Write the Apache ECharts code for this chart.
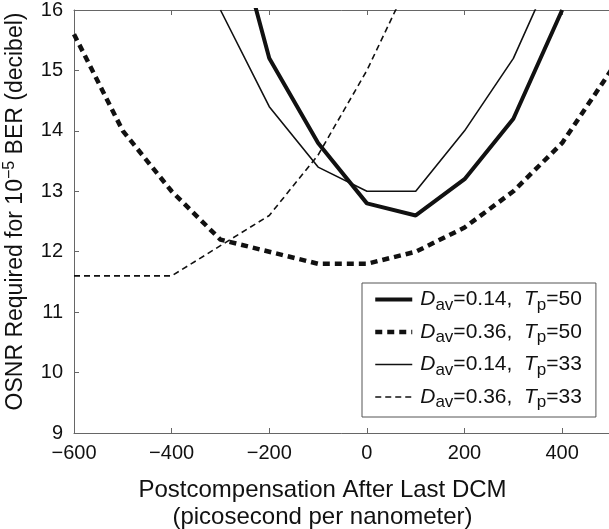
<!DOCTYPE html>
<html>
  <head>
    <meta charset="utf-8" />
    <title>OSNR vs postcompensation</title>
    <script src="https://cdn.jsdelivr.net/npm/echarts@6/dist/echarts.min.js"></script>
    <style type="text/css">
      html, body { margin: 0; padding: 0; overflow: hidden; background: #fff; }
    </style>
  </head>
  <body>
    <div id="main" style="width: 609px; height: 529px"></div>
    <script type="text/javascript">
      // postcompensation (ps/nm)
      var xValues = [-600, -500, -400, -300, -200, -100, 0, 100, 200, 300, 400, 500];
      // OSNR required (dB), one array per curve
      var dav014tp50 = [null, null, null, 18.2, 15.2, 13.8, 12.8, 12.6, 13.2, 14.2, 16.0, null];
      var dav036tp50 = [15.6, 14.0, 13.0, 12.2, 12.0, 11.8, 11.8, 12.0, 12.4, 13.0, 13.8, 15.0];
      var dav014tp33 = [null, null, null, 16.0, 14.4, 13.4, 13.0, 13.0, 14.0, 15.2, 17.0, null];
      var dav036tp33 = [11.6, 11.6, 11.6, 12.1, 12.6, 13.6, 15.0, 16.7, null, null, null, null];

      var legendText = {
        a: "{i|D}{s|av}=0.14,  {i|T}{s|p}=50",
        b: "{i|D}{s|av}=0.36,  {i|T}{s|p}=50",
        c: "{i|D}{s|av}=0.14,  {i|T}{s|p}=33",
        d: "{i|D}{s|av}=0.36,  {i|T}{s|p}=33"
      };

      function pairs(ys) {
        return xValues.map(function (x, i) { return [x, ys[i]]; });
      }

      var font = "Liberation Sans";
      var myChart = echarts.init(document.getElementById("main"));

      var styles = {
        a: { width: 4, type: "solid" },
        b: { width: 4.5, type: [7, 5] },
        c: { width: 1.6, type: "solid" },
        d: { width: 1.6, type: [6, 4] }
      };

      function line(name, ys) {
        return {
          name: name,
          type: "line",
          data: pairs(ys),
          symbol: "none",
          clip: true,
          lineStyle: { color: "#111", width: styles[name].width, type: styles[name].type },
          itemStyle: { color: "#111" }
        };
      }

      var option = {
        animation: false,
        grid: { left: 74, right: -2, top: 10, bottom: 96, outerBoundsMode: "none", containLabel: false },
        legend: {
          orient: "vertical",
          left: 362,
          top: 283,
          padding: [6, 14, 6, 11],
          itemGap: 8,
          itemWidth: 37,
          itemHeight: 14,
          backgroundColor: "#fff",
          borderColor: "#555",
          borderWidth: 1,
          itemStyle: { opacity: 0 },
          formatter: function (n) { return legendText[n]; },
          textStyle: {
            fontFamily: font,
            fontSize: 21,
            color: "#111",
            padding: [0, 0, 0, 3],
            rich: {
              i: { fontStyle: "italic", fontSize: 21, fontFamily: font, color: "#111" },
              s: { fontSize: 17, fontFamily: font, color: "#111", padding: [11, 0, 0, 0] }
            }
          },
          data: ["a", "b", "c", "d"].map(function (n) {
            return { name: n, lineStyle: { color: "#111", width: styles[n].width, type: styles[n].type } };
          })
        },
        xAxis: [
          {
            type: "value",
            min: -600,
            max: 500,
            interval: 200,
            name: "Postcompensation After Last DCM\n(picosecond per nanometer)",
            nameLocation: "middle",
            nameGap: 44,
            nameTextStyle: { fontFamily: font, fontSize: 24, color: "#111", lineHeight: 27, padding: [0, 40, 0, 0] },
            axisLine: { onZero: false, lineStyle: { color: "#666" } },
            axisTick: { inside: true, length: 5, lineStyle: { color: "#666" } },
            axisLabel: {
              fontFamily: font, fontSize: 20, color: "#111", margin: 10, showMaxLabel: false,
              formatter: function (v) { return v < 0 ? "\u2212" + (-v) : String(v); }
            },
            splitLine: { show: false }
          },
          {
            type: "value",
            position: "top",
            min: -600,
            max: 500,
            interval: 200,
            axisLine: { onZero: false, lineStyle: { color: "#666" } },
            axisTick: { inside: true, length: 5, lineStyle: { color: "#666" } },
            axisLabel: { show: false },
            splitLine: { show: false }
          }
        ],
        yAxis: {
          type: "value",
          min: 9,
          max: 16,
          interval: 1,
          name: "OSNR Required for 10{sup|\u22125} BER (decibel)",
          nameLocation: "middle",
          nameRotate: 90,
          nameGap: 44,
          nameTextStyle: {
            fontFamily: font, fontSize: 23, color: "#111", padding: [0, 0, 0, 20],
            rich: { sup: { fontFamily: font, fontSize: 16, color: "#111", padding: [0, 0, 12, 0] } }
          },
          axisLine: { show: true, onZero: false, lineStyle: { color: "#666" } },
          axisTick: { show: true, inside: true, length: 5, lineStyle: { color: "#666" } },
          axisLabel: { fontFamily: font, fontSize: 20, color: "#111", margin: 11 },
          splitLine: { show: false }
        },
        series: [
          line("a", dav014tp50),
          line("b", dav036tp50),
          line("c", dav014tp33),
          line("d", dav036tp33)
        ]
      };

      myChart.setOption(option);
    </script>
  </body>
</html>
